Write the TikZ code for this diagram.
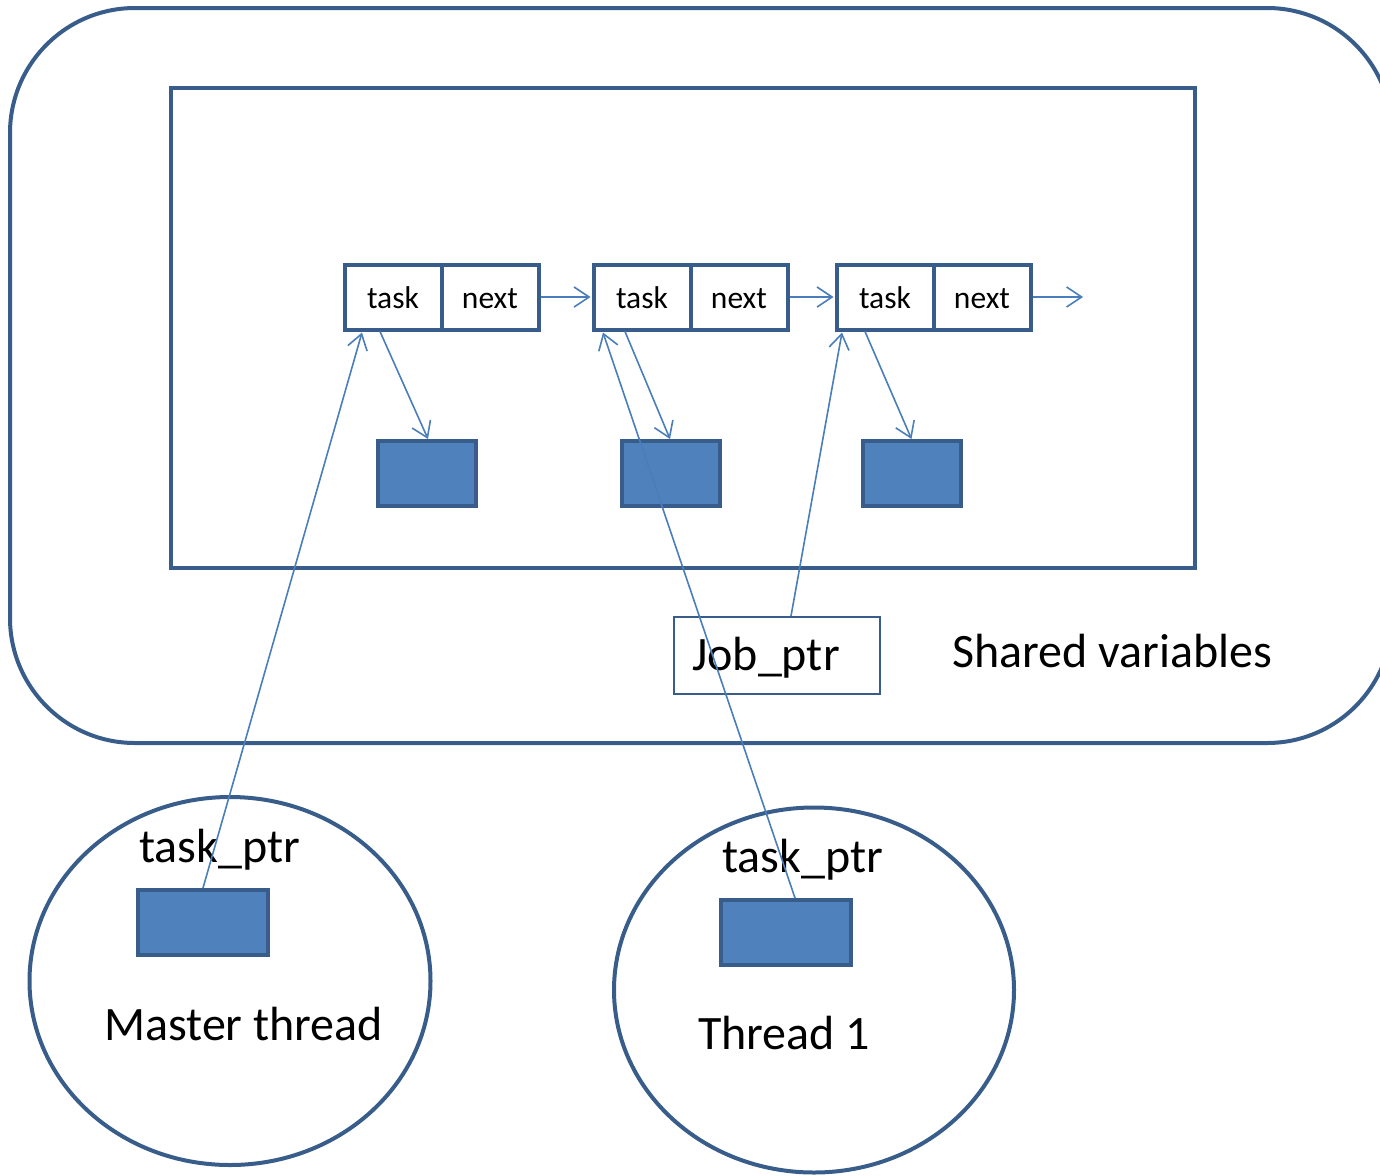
\documentclass[tikz,border=0pt]{standalone}
\usepackage{fontspec}
\setmainfont{Carlito}
\usetikzlibrary{arrows.meta,shapes.geometric}
\definecolor{dkb}{HTML}{385D8A}
\definecolor{fillb}{HTML}{4F81BD}
\definecolor{arb}{HTML}{4A7EBB}
\begin{document}
\begin{tikzpicture}[x=1pt,y=-1pt,
  container/.style={draw=dkb, line width=4pt},
  cell/.style={draw=dkb, line width=4pt, fill=white, minimum width=97pt, minimum height=65pt, inner sep=0pt,
     font=\fontsize{31.5}{37}\selectfont, text height=22pt, text depth=0pt},
  datab/.style={draw=dkb, line width=4pt, fill=fillb, minimum width=98pt, minimum height=65pt, inner sep=0pt},
  ptrbox/.style={draw=dkb, line width=4pt, fill=fillb, minimum width=130pt, minimum height=65pt, inner sep=0pt},
  thread/.style={draw=dkb, line width=4pt, ellipse, inner sep=0pt},
  big/.style={font=\fontsize{48}{56}\selectfont, anchor=base west, inner sep=0pt},
  link/.style={draw=arb, line width=1.6pt, -{Straight Barb[length=15pt,width=20pt,line width=1.6pt]}},
  plain/.style={draw=arb, line width=1.6pt}
]
\useasboundingbox (0,0) rectangle (1380,1175);
\begin{scope}
\clip (0,0) rectangle (1380,1175);
% outer shared area
\draw[container, rounded corners=125pt] (10,8) rectangle (1392,743);
\node[container, minimum width=1024pt, minimum height=480pt, inner sep=0pt] (heap) at (683,328) {};

% list nodes
\node[cell] (n1t) at (393,297) {task};
\node[cell] (n1n) at (490,297) {next};
\node[cell] (n2t) at (642,297) {task};
\node[cell] (n2n) at (739,297) {next};
\node[cell] (n3t) at (885,297) {task};
\node[cell] (n3n) at (982,297) {next};
\coordinate (nil) at (1083,297);

% data boxes
\node[datab] (d1) at (427,473.5) {};
\node[datab] (d2) at (671,473.5) {};
\node[datab] (d3) at (911.5,473.5) {};

% job pointer
\node[draw=dkb, line width=2pt, minimum width=206pt, minimum height=77pt, inner sep=0pt] (job) at (777,655.5) {};
\node[big] (jobtxt) at (692,670) {Job\_ptr};
\node[big] (shared) at (952,667) {Shared variables};

% threads
\node[thread, minimum width=401pt, minimum height=368pt] (master) at (230,981) {};
\node[thread, minimum width=400pt, minimum height=365pt] (thr1) at (814,990) {};
\node[ptrbox] (mp) at (203,922.5) {};
\node[ptrbox] (tp) at (786,932.5) {};
\node[big] (mptxt) at (139,862) {task\_ptr};
\node[big] (tptxt) at (722,872) {task\_ptr};
\node[big] (mname) at (104,1040) {Master thread};
\node[big] (tname) at (698,1049) {Thread 1};

% next links
\draw[link] (n1n.east) -- ([xshift=-1pt]n2t.west);
\draw[link] (n2n.east) -- ([xshift=-1pt]n3t.west);
\draw[link] (n3n.east) -- (nil);

% task links
\draw[link] ([xshift=-13pt]n1t.south) -- ([xshift=1pt]d1.north);
\draw[link] ([xshift=-17pt]n2t.south) -- ([xshift=-1pt]d2.north);
\draw[link] ([xshift=-20pt]n3t.south) -- ([xshift=0pt]d3.north);

% pointer links
\draw[link] (mp.north) -- ([xshift=-31pt,yshift=-1pt]n1t.south);
\draw[link] ([xshift=9pt]tp.north) -- ([xshift=-39pt,yshift=-1pt]n2t.south);
\draw[link] ([xshift=14pt]job.north) -- ([xshift=-43pt,yshift=-1pt]n3t.south);
\end{scope}
\end{tikzpicture}
\end{document}
